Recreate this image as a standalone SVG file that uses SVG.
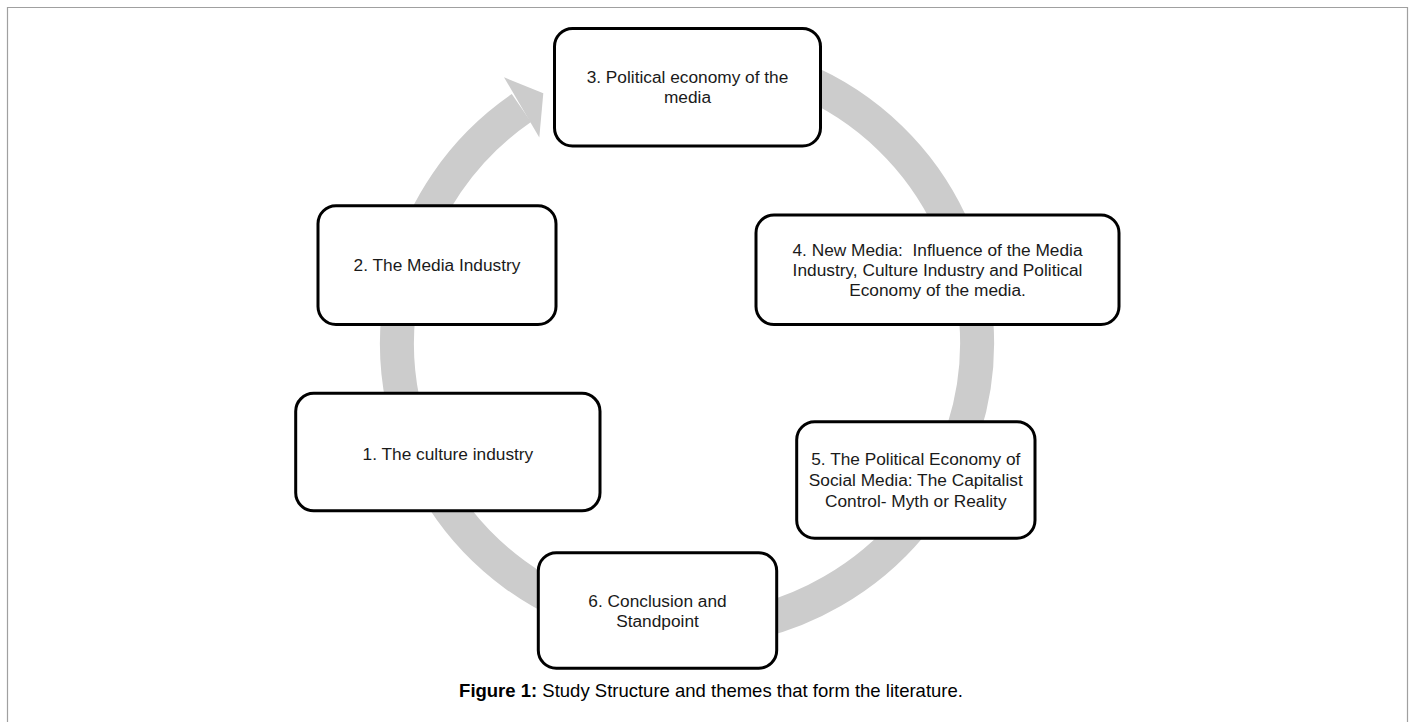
<svg xmlns="http://www.w3.org/2000/svg" width="1414" height="722" viewBox="0 0 1414 722">
<style>
.box{fill:#ffffff;stroke:#000000;stroke-width:3}
.lbl{font-family:"Liberation Sans",Arial,sans-serif;font-size:17.3px;fill:#1a1a1a;text-anchor:middle}
.cap{font-family:"Liberation Sans",Arial,sans-serif;font-size:18.5px;fill:#000000;text-anchor:middle}
.ring{fill:none;stroke:#cccccc;stroke-width:34}
</style>
<rect x="0" y="0" width="1414" height="722" fill="#ffffff"/>
<path d="M7.5,730 V7.5 H1407.5 V730" fill="none" stroke="#a0a0a0" stroke-width="1.2"/>
<g id="connectors">
<path class="ring" d="M588.5,73.6 A289.5,286.7 0 0 1 832.3,591.3 A289.5,286.7 0 0 1 521.4,108.1"/>
<polygon points="504,77.3 543.3,93.3 539.3,137.5" fill="#cccccc"/>
</g>
<g id="node3">
<rect class="box" x="554.5" y="28.5" width="266" height="117.5" rx="18"/>
<text class="lbl" x="687.5" y="83.3">3. Political economy of the</text>
<text class="lbl" x="687.5" y="103">media</text>
</g>
<g id="node2">
<rect class="box" x="318" y="205.7" width="238" height="118.8" rx="18"/>
<text class="lbl" x="437" y="271">2. The Media Industry</text>
</g>
<g id="node4">
<rect class="box" x="756" y="215" width="363" height="109.5" rx="18"/>
<text class="lbl" x="937.5" y="256" xml:space="preserve">4. New Media:  Influence of the Media</text>
<text class="lbl" x="937.5" y="276">Industry, Culture Industry and Political</text>
<text class="lbl" x="937.5" y="296">Economy of the media.</text>
</g>
<g id="node1">
<rect class="box" x="295.7" y="393.3" width="304.3" height="117.5" rx="18"/>
<text class="lbl" x="447.9" y="459.5">1. The culture industry</text>
</g>
<g id="node5">
<rect class="box" x="796.7" y="421.7" width="238.3" height="116.6" rx="18"/>
<text class="lbl" x="915.8" y="465">5. The Political Economy of</text>
<text class="lbl" x="915.8" y="486">Social Media: The Capitalist</text>
<text class="lbl" x="915.8" y="506.5">Control- Myth or Reality</text>
</g>
<g id="node6">
<rect class="box" x="538.3" y="552.7" width="238.4" height="115.6" rx="18"/>
<text class="lbl" x="657.5" y="606.5">6. Conclusion and</text>
<text class="lbl" x="657.5" y="626.5">Standpoint</text>
</g>
<g id="caption">
<text class="cap" x="711" y="697"><tspan font-weight="bold">Figure 1:</tspan> Study Structure and themes that form the literature.</text>
</g>
</svg>
